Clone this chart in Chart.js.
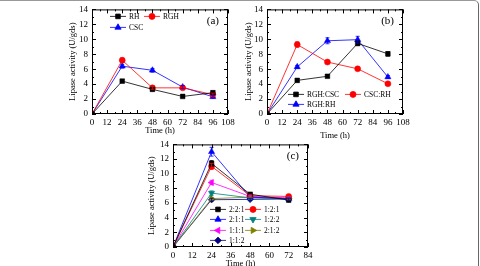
<!DOCTYPE html>
<html>
<head>
<meta charset="utf-8">
<script src="https://cdn.jsdelivr.net/npm/chart.js@4/dist/chart.umd.min.js"></script>
<style>
  body { margin: 0; background: #fff; }
  #frame {
    position: absolute; left: 0; top: 0; width: 478px; height: 265px;
    border-top: 1px solid #999; border-right: 1px solid #666;
    border-top-right-radius: 5px;
  }
  canvas { position: absolute; }
</style>
</head>
<body>
<div id="frame"></div>
<canvas id="chartA" style="left:0px;top:0px;width:240px;height:140px"></canvas>
<canvas id="chartB" style="left:240px;top:0px;width:240px;height:140px"></canvas>
<canvas id="chartC" style="left:120px;top:135px;width:240px;height:131px"></canvas>
<script>
// sampling times (h)
const timesAB = [0, 24, 48, 72, 96];
const timesC = [0, 24, 48, 72];

// panel (a)
const rh = [0, 4.4, 3.3, 2.35, 2.85];
const rgh = [0, 7.2, 3.5, 3.5, 2.6];
const csc = [0, 6.4, 5.85, 3.6, 2.3];
const rhErr = [0, 0.2, 0.2, 0.15, 0.2];
const rghErr = [0, 0.3, 0.2, 0.15, 0.2];
const cscErr = [0, 0.25, 0.25, 0.2, 0.2];

// panel (b)
const rghCsc = [0, 4.5, 5.05, 9.45, 8.05];
const cscRh = [0, 9.3, 6.95, 6.05, 4.05];
const rghRh = [0, 6.3, 9.8, 9.95, 4.95];
const rghCscErr = [0, 0.2, 0.2, 0.3, 0.3];
const cscRhErr = [0, 0.35, 0.2, 0.15, 0.15];
const rghRhErr = [0, 0.2, 0.4, 0.45, 0.2];

// panel (c)
const r221 = [0, 11.4, 7.2, 6.4];
const r121 = [0, 11.0, 7.0, 6.9];
const r211 = [0, 13.0, 6.8, 6.6];
const r122 = [0, 7.35, 6.7, 6.6];
const r111 = [0, 8.8, 6.9, 6.7];
const r212 = [0, 6.6, 6.8, 6.6];
const r112 = [0, 6.45, 6.5, 6.55];
const r221Err = [0, 0.4, 0.2, 0.2];
const r121Err = [0, 0.4, 0.2, 0.2];
const r211Err = [0, 0.6, 0.2, 0.2];
const r122Err = [0, 0.3, 0.15, 0.15];
const r111Err = [0, 0.3, 0.15, 0.15];
const r212Err = [0, 0.2, 0.15, 0.15];
const r112Err = [0, 0.2, 0.15, 0.15];

const yTicks = [0, 2, 4, 6, 8, 10, 12, 14];

const FONT = "'Liberation Serif', 'Times New Roman', serif";

const series = (label, xs, ys, errs, color, style, rotation, radius) => ({
  label: label,
  data: xs.map((x, i) => ({ x: x, y: ys[i] })),
  errors: errs,
  borderColor: color,
  backgroundColor: color,
  borderWidth: 0.8,
  pointStyle: style,
  pointRotation: rotation || 0,
  pointRadius: radius || 3.3,
  pointBorderWidth: 0.5,
  pointBorderColor: color,
  tension: 0
});

// inward ticks on all four sides + box
const framePlugin = {
  id: "frame",
  afterDraw(chart) {
    const ctx = chart.ctx;
    const a = chart.chartArea;
    const xs = chart.scales.x, ys = chart.scales.y;
    ctx.save();
    ctx.strokeStyle = "#000";
    ctx.lineWidth = 1;
    ctx.strokeRect(a.left + 0.5, a.top + 0.5, a.right - a.left - 1, a.bottom - a.top - 1);
    const xStep = xs.options.ticks.stepSize;
    ctx.beginPath();
    for (let v = xs.min; v <= xs.max + 0.001; v += xStep / 2) {
      const px = Math.round(xs.getPixelForValue(v)) + 0.5;
      const len = Math.abs((v / xStep) - Math.round(v / xStep)) < 0.01 ? 4 : 2;
      ctx.moveTo(px, a.bottom); ctx.lineTo(px, a.bottom - len);
      ctx.moveTo(px, a.top); ctx.lineTo(px, a.top + len);
    }
    const yStep = ys.options.ticks.stepSize;
    for (let v = ys.min; v <= ys.max + 0.001; v += yStep / 2) {
      const py = Math.round(ys.getPixelForValue(v)) + 0.5;
      const len = Math.abs((v / yStep) - Math.round(v / yStep)) < 0.01 ? 4 : 2;
      ctx.moveTo(a.left, py); ctx.lineTo(a.left + len, py);
      ctx.moveTo(a.right, py); ctx.lineTo(a.right - len, py);
    }
    ctx.stroke();
    ctx.restore();
  }
};

// error bars from dataset.errors
const errorPlugin = {
  id: "errbars",
  afterDatasetsDraw(chart) {
    const ctx = chart.ctx;
    const ys = chart.scales.y;
    chart.data.datasets.forEach((ds, di) => {
      const meta = chart.getDatasetMeta(di);
      ctx.save();
      ctx.strokeStyle = ds.borderColor;
      ctx.lineWidth = 0.8;
      meta.data.forEach((pt, i) => {
        const e = ds.errors ? ds.errors[i] : 0;
        if (!e) return;
        const v = ds.data[i].y;
        const y1 = ys.getPixelForValue(v + e), y2 = ys.getPixelForValue(v - e);
        ctx.beginPath();
        ctx.moveTo(pt.x, y1); ctx.lineTo(pt.x, y2);
        ctx.moveTo(pt.x - 2, y1); ctx.lineTo(pt.x + 2, y1);
        ctx.moveTo(pt.x - 2, y2); ctx.lineTo(pt.x + 2, y2);
        ctx.stroke();
      });
      ctx.restore();
    });
  }
};

// legend drawn inside the plot, titles and panel letter
const decorPlugin = {
  id: "decor",
  afterDraw(chart) {
    const ctx = chart.ctx;
    const a = chart.chartArea;
    const o = chart.options.plugins.decor;
    ctx.save();
    ctx.fillStyle = "#000";
    ctx.textBaseline = "middle";
    // axis titles
    ctx.font = "8.5px " + FONT;
    ctx.textAlign = "center";
    ctx.fillText("Time (h)", (a.left + a.right) / 2, a.bottom + o.xTitleGap);
    ctx.save();
    ctx.translate(a.left - o.yTitleGap, (a.top + a.bottom) / 2);
    ctx.rotate(-Math.PI / 2);
    ctx.fillText("Lipase activity (U/gds)", 0, 0);
    ctx.restore();
    // panel letter
    ctx.font = "11px " + FONT;
    ctx.textAlign = "right";
    ctx.fillText(o.letter, a.right - 9, a.top + 12);
    // legend
    ctx.font = "7.5px " + FONT;
    ctx.textAlign = "left";
    o.legend.forEach((it) => {
      const ds = chart.data.datasets[it.i];
      const x = a.left + it.x, y = a.top + it.y;
      ctx.strokeStyle = ds.borderColor;
      ctx.lineWidth = 0.8;
      ctx.beginPath();
      ctx.moveTo(x, y); ctx.lineTo(x + 16, y);
      ctx.stroke();
      ctx.fillStyle = ds.backgroundColor;
      Chart.helpers.drawPoint(ctx, {
        pointStyle: ds.pointStyle, rotation: ds.pointRotation,
        radius: ds.pointRadius, borderWidth: 0.5
      }, x + 8, y);
      ctx.fillStyle = "#000";
      ctx.fillText(ds.label, x + 19, y + 0.5);
    });
    ctx.restore();
  }
};

const makeChart = (id, datasets, xMax, pad, decor) => {
  new Chart(document.getElementById(id), {
    type: "line",
    data: { datasets: datasets },
    options: {
      responsive: false,
      animation: false,
      devicePixelRatio: 1,
      layout: { padding: pad },
      plugins: { legend: { display: false }, tooltip: { enabled: false }, decor: decor },
      scales: {
        x: {
          type: "linear", min: 0, max: xMax,
          border: { display: false },
          grid: { display: false, drawTicks: false },
          ticks: { stepSize: 12, autoSkip: false, maxRotation: 0, padding: 3,
                   color: "#000", font: { family: FONT, size: 9 } },
          afterFit(s) { s.height = 12; }
        },
        y: {
          min: 0, max: 14,
          border: { display: false },
          grid: { display: false, drawTicks: false },
          afterBuildTicks(s) { s.ticks = yTicks.map((v) => ({ value: v })); },
          ticks: { stepSize: 2, padding: 4, color: "#000", font: { family: FONT, size: 9 } },
          afterFit(s) { s.width = 20; }
        }
      }
    },
    plugins: [errorPlugin, framePlugin, decorPlugin]
  });
};

const setSize = (id) => {
  const c = document.getElementById(id);
  c.width = parseInt(c.style.width);
  c.height = parseInt(c.style.height);
};
["chartA", "chartB", "chartC"].forEach(setSize);

makeChart("chartA", [
  series("RH", timesAB, rh, rhErr, "#000000", "rect"),
  series("RGH", timesAB, rgh, rghErr, "#ff0000", "circle", 0, 3),
  series("CSC", timesAB, csc, cscErr, "#0000ff", "triangle", 0, 3.6)
], 108, { left: 72, right: 12, top: 9, bottom: 14 }, {
  letter: "(a)", xTitleGap: 17, yTitleGap: 19,
  legend: [{ i: 0, x: 18, y: 7 }, { i: 1, x: 52, y: 7 }, { i: 2, x: 18, y: 18 }]
});

makeChart("chartB", [
  series("RGH:CSC", timesAB, rghCsc, rghCscErr, "#000000", "rect"),
  series("CSC:RH", timesAB, cscRh, cscRhErr, "#ff0000", "circle", 0, 3),
  series("RGH:RH", timesAB, rghRh, rghRhErr, "#0000ff", "triangle", 0, 3.6)
], 108, { left: 7, right: 77, top: 9, bottom: 14 }, {
  letter: "(b)", xTitleGap: 22, yTitleGap: 18,
  legend: [{ i: 0, x: 21, y: 85 }, { i: 1, x: 78, y: 85 }, { i: 2, x: 21, y: 95 }]
});

makeChart("chartC", [
  series("2:2:1", timesC, r221, r221Err, "#000000", "rect"),
  series("1:2:1", timesC, r121, r121Err, "#ff0000", "circle", 0, 3),
  series("2:1:1", timesC, r211, r211Err, "#0000ff", "triangle", 0, 3.6),
  series("1:2:2", timesC, r122, r122Err, "#008080", "triangle", 180, 3.6),
  series("1:1:1", timesC, r111, r111Err, "#ff00ff", "triangle", 270, 3.6),
  series("2:1:2", timesC, r212, r212Err, "#808000", "triangle", 90, 3.6),
  series("1:1:2", timesC, r112, r112Err, "#000080", "rectRot", 0, 3.3)
], 84, { left: 33, right: 52, top: 8, bottom: 7 }, {
  letter: "(c)", xTitleGap: 17, yTitleGap: 21,
  legend: [
    { i: 0, x: 37, y: 65 }, { i: 1, x: 72, y: 65 },
    { i: 2, x: 37, y: 75 }, { i: 3, x: 72, y: 75 },
    { i: 4, x: 37, y: 86 }, { i: 5, x: 72, y: 86 },
    { i: 6, x: 37, y: 96 }
  ]
});
</script>
</body>
</html>
